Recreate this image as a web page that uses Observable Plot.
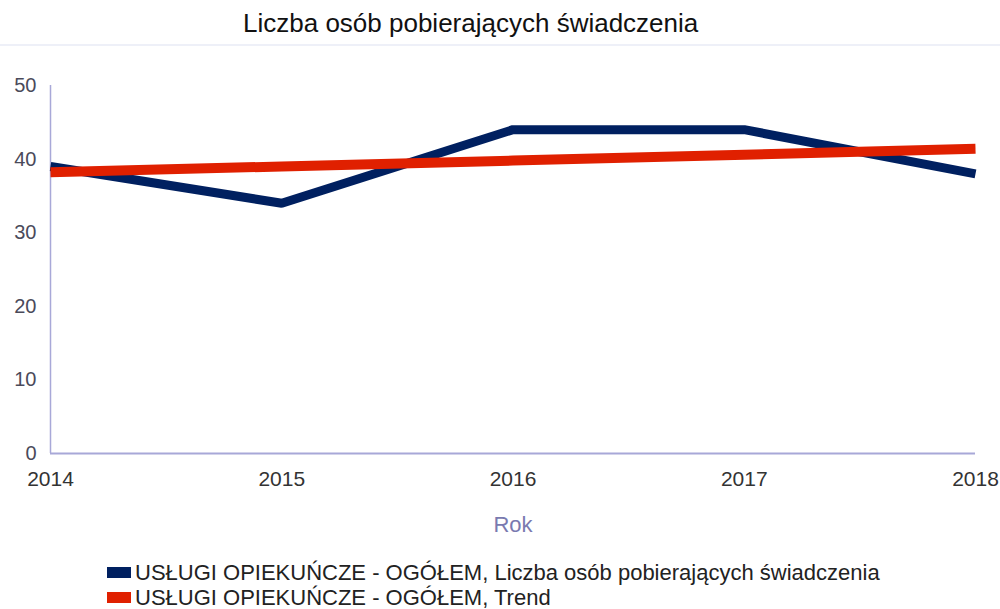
<!DOCTYPE html>
<html>
<head>
<meta charset="utf-8">
<script src="https://cdn.jsdelivr.net/npm/d3@7"></script>
<script src="https://cdn.jsdelivr.net/npm/@observablehq/plot@0.6"></script>
<style>
  body { margin: 0; background: #fff; width: 1000px; height: 609px; overflow: hidden; position: relative; font-family: "Liberation Sans", Arial, sans-serif; }
  #title { position: absolute; left: 0; top: 0; width: 1000px; height: 44px; border-bottom: 2px solid #eef0f8; }
  #title span { position: absolute; left: 243px; top: 8px; font-size: 26px; color: #111; white-space: nowrap; }
  #chart { position: absolute; left: 0; top: 0; }
  .leg { position: absolute; left: 107px; font-size: 22px; color: #222; white-space: nowrap; line-height: 26px; }
  .sw { display: inline-block; width: 24px; height: 11px; margin-right: 4px; vertical-align: 2px; }
</style>
</head>
<body>
<div id="title"><span>Liczba osób pobierających świadczenia</span></div>
<div id="chart"></div>
<div class="leg" style="top:560px"><span class="sw" style="background:#002060"></span>USŁUGI OPIEKUŃCZE - OGÓŁEM, Liczba osób pobierających świadczenia</div>
<div class="leg" style="top:585px"><span class="sw" style="background:#e02000"></span>USŁUGI OPIEKUŃCZE - OGÓŁEM, Trend</div>
<script>
const years = [2014, 2015, 2016, 2017, 2018];
const persons = [39, 34, 44, 44, 38];
const trend = [38.2, 39.0, 39.8, 40.6, 41.4];
const yTicks = [0, 10, 20, 30, 40, 50];
const seriesNames = ["USŁUGI OPIEKUŃCZE - OGÓŁEM, Liczba osób pobierających świadczenia", "USŁUGI OPIEKUŃCZE - OGÓŁEM, Trend"];

const dataPersons = years.map((y, i) => ({year: y, value: persons[i]}));
const dataTrend = years.map((y, i) => ({year: y, value: trend[i]}));

const plot = Plot.plot({
  width: 1000,
  height: 540,
  marginTop: 85,
  marginLeft: 50,
  marginRight: 25,
  marginBottom: 87,
  style: {fontFamily: '"Liberation Sans", Arial, sans-serif', background: "transparent"},
  x: {domain: [2014, 2018], ticks: years, tickFormat: d => String(d)},
  y: {domain: [0, 50], ticks: yTicks},
  marks: [
    Plot.ruleX([2014], {stroke: "#a8a8d8", strokeWidth: 1.5}),
    Plot.ruleY([0], {stroke: "#a8a8d8", strokeWidth: 2}),
    Plot.axisY({ticks: yTicks, tickSize: 0, tickPadding: 14, fontSize: 20, fill: "#4a4a5a", label: null}),
    Plot.axisX({ticks: years, tickSize: 0, tickPadding: 18, fontSize: 21, fill: "#333", tickFormat: d => String(d), label: null}),
    Plot.text(["Rok"], {fontSize: 22, fill: "#7a7ab0", x: 2016, y: 0, dy: 71}),
    Plot.line(dataPersons, {x: "year", y: "value", stroke: "#002060", strokeWidth: 9, strokeLinejoin: "miter", strokeLinecap: "butt"}),
    Plot.line(dataTrend, {x: "year", y: "value", stroke: "#e02000", strokeWidth: 10, strokeLinecap: "butt"})
  ]
});
document.getElementById("chart").appendChild(plot);
</script>
</body>
</html>
